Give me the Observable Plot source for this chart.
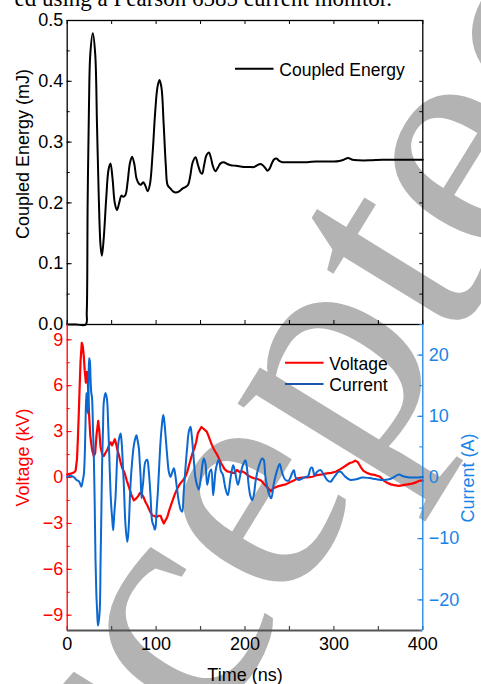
<!DOCTYPE html>
<html>
<head>
<meta charset="utf-8">
<script src="https://cdn.jsdelivr.net/npm/d3@7"></script>
<script src="https://cdn.jsdelivr.net/npm/@observablehq/plot@0.6"></script>
<style>
html,body{margin:0;padding:0;background:#fff;}
#wrap{position:relative;width:481px;height:684px;overflow:hidden;font-family:Arial,"Liberation Sans",sans-serif;}
#wrap svg{position:absolute;left:0;top:0;overflow:visible;}
</style>
</head>
<body>
<div id="wrap"></div>
<script>
// ---------- data ----------
const energyTime = [0,10,21,22,23,24.5,26,28.8,31.5,33.5,35.5,37.5,39,41,44,46.5,48.7,51,53.5,56,58.5,61,63,65.5,68,70.5,73,75.5,78,80.5,83,85.5,88,90.5,93,96,99,101.5,103.8,106,108.5,111,113,116,119,122,126,130,133,136,138.5,141,144.3,147,150,151.8,154,156.5,159.3,161.5,164,166.8,169.5,172.5,176,180,184,190,195,200,205,210,214,217,220,223,225,227.5,230.5,233,235.5,238.5,242,250,260,270,280,290,300,306,311,316,321,328,340,355,370,385,400];
const energyMJ = [0,0,0,0.02,0.2,0.36,0.445,0.479,0.445,0.33,0.21,0.13,0.113,0.14,0.21,0.255,0.265,0.24,0.2,0.188,0.2,0.212,0.21,0.213,0.235,0.265,0.276,0.264,0.24,0.232,0.23,0.234,0.228,0.219,0.23,0.28,0.35,0.39,0.402,0.39,0.33,0.26,0.229,0.224,0.219,0.217,0.219,0.224,0.226,0.23,0.245,0.266,0.275,0.263,0.25,0.248,0.262,0.278,0.283,0.275,0.26,0.252,0.258,0.265,0.267,0.264,0.262,0.261,0.26,0.259,0.259,0.259,0.262,0.264,0.262,0.257,0.253,0.256,0.266,0.272,0.273,0.269,0.267,0.267,0.267,0.267,0.268,0.268,0.268,0.269,0.271,0.274,0.271,0.27,0.27,0.271,0.271,0.271,0.271];

const voltageTime = [0,4,8,9.5,11,12,13.1,14,15,16.4,17.5,18.7,19.7,21,22.3,23.3,24.5,26,28,30,31.5,33,34.9,36.2,37.5,39.5,41.2,43,45,47,48.7,50.5,52,53.6,55,56.5,58,60,62,64.5,67,69.3,72,75,78,80,82,84,86,88,90,93,96,98,100,103,105,107,108.7,110.5,112.5,115,118,121,124,127,130,132.5,135,137,139,141,143,145,147,149,151,153,155,157,159,161,163,165,167,169,171,173,175,177,180,183,186,188.5,191,194,197,200,203,206,210,214,218,222,226,229,232,236,242,246,251,255,259,264,270,276,281,287,292,297,302,306,310,314,318,321,324,327,330,333,337,342,347,352,356,360,364,368,373,378,383,388,393,397,400];
const voltageKV = [0.2,0.25,0.35,0.45,1.2,2.5,4.3,5.9,7.6,8.8,8.6,7.9,7.0,6.2,6.9,6.2,4.2,2.7,1.8,1.4,1.6,2.8,3.7,3.0,2.0,1.5,1.4,1.6,1.8,2.1,2.3,2.1,2.3,2.5,2.2,1.8,1.5,1.0,0.6,0.3,-0.2,-0.6,-1.1,-1.5,-1.35,-1.2,-1.0,-1.1,-1.3,-1.6,-1.8,-2.2,-2.5,-2.5,-2.6,-2.5,-2.5,-2.8,-3.0,-2.8,-2.6,-2.1,-1.6,-1.1,-0.7,-0.4,-0.2,0.0,0.35,0.8,1.2,1.6,1.9,2.3,2.9,3.1,3.3,3.2,3.1,3.0,2.7,2.4,2.1,1.85,1.65,1.45,1.2,0.95,0.75,0.55,0.4,0.36,0.3,0.3,0.5,0.35,0.4,0.3,0.15,0.05,-0.05,-0.1,-0.2,-0.45,-0.7,-0.9,-0.7,-0.6,-0.5,-0.45,-0.3,-0.2,-0.05,0.0,0.0,0.05,0.16,0.2,0.27,0.3,0.38,0.5,0.65,0.8,0.95,1.0,1.1,1.0,0.7,0.45,0.3,0.2,0.15,0.05,-0.2,-0.35,-0.45,-0.5,-0.55,-0.5,-0.45,-0.4,-0.3,-0.2,-0.2];

const currentTime = [0,4,8,10.5,13,15,16,17.5,18.7,19.5,20.5,21.5,22.3,23.2,24,24.7,25.5,26.3,27,28,29,30,31,31.8,32.8,33.7,34.6,35.5,36.7,37.5,38.2,39.4,40.3,41.2,43,44,45,46,46.8,47.8,48.7,49.7,50.6,51.7,52.5,53.4,54.3,55.3,56.2,58,60,61,61.9,63.7,65.6,67.5,68.5,69.3,71.2,73,75,77,78,79,80.6,81.6,82.5,83.6,84.5,85.5,88,90,91.8,93.7,95.6,97.5,98.5,99.5,100.5,102,105,106.5,108,109,110.6,112.5,114.3,116.2,118,120,121.5,123,125.6,127.5,129.3,131,133,135,136.8,138.7,140,141.7,144.3,146,148,150.7,152,153.7,155.5,157.5,160.4,162,164.2,166.8,168.5,170.5,173,175,178,180.7,183.7,186.7,189,192,195,198,200.6,202,204.3,206,208,210,212,215.5,219.3,221,223,226.8,229.5,232.4,236.2,239,241.9,245.6,249,253,255,257,260.5,264,268,271,273.7,275.6,278.2,281.2,285,288,292.4,296.2,299,302,305,307.5,310,313,318.7,325,332,340,348,355,362,368,373,378,385,392,400];
const currentA = [0.1,0.3,0.0,-0.4,-0.6,-1.2,-1.5,-0.5,0.5,2.5,8,13.8,12,10.5,15,19.5,19,16,14,12.9,8,3.1,-5,-13.2,-19,-21.9,-24.2,-23.5,-21.4,-14,-7.8,3.1,8,12.4,13.8,13.4,12.4,9,5.9,1.5,-2.3,-5,-6.7,-8.6,-7,-5,-3.4,0,3.1,6.1,7.2,6.2,4.2,-1.2,-7.8,-10.5,-9.5,-7.8,-1.2,2.5,5.3,6.6,6.9,6.2,4.8,2.5,0.4,-3.4,-2.0,-0.7,2.6,2.9,0.95,-2.9,-7.2,-8.0,-8.5,-8.0,-5.5,-2.3,5.9,8.5,10.2,9.5,6.9,3.5,0.95,0.1,0.8,1.5,0.5,-1.2,-4.0,-5.2,-5.6,-2.5,1.5,5,7.5,8.3,7,4.2,-0.1,-1.2,-2.0,0.4,2.0,3.1,2.3,-1.2,0.95,1.3,-2.9,0.95,2.2,2.9,1.0,0.5,-1.8,-2.9,-0.1,2.0,0.8,-1.2,0.6,2.2,2.8,1.8,-1.5,-3.0,-3.7,-2.8,-0.5,1.8,3.1,2.9,0.1,-2.6,-3.4,-1.0,1.2,2.2,0.7,-0.4,-0.5,0.7,1.2,0.0,-0.4,-0.2,0.1,0.2,1.5,1.6,0.4,0.95,1.2,0.6,-0.4,-0.7,-0.2,0.4,0.9,0.95,0.6,0.1,-0.4,-0.3,0.0,-0.1,-0.3,-0.4,-0.3,0.1,0.5,0.2,0.0,0.0,0.1];

const energyTicks = [0, 0.1, 0.2, 0.3, 0.4, 0.5];
const voltageTicks = [-9, -6, -3, 0, 3, 6, 9];
const currentTicks = [-20, -10, 0, 10, 20];
const timeTicks = [0, 100, 200, 300, 400];
const seriesNames = ["Coupled Energy", "Voltage", "Current"];

// ---------- build ----------
const energy = energyTime.map((t, i) => ({t, v: energyMJ[i]}));
const voltage = voltageTime.map((t, i) => ({t, v: voltageKV[i]}));
const current = currentTime.map((t, i) => ({t, v: currentA[i]}));

const W = 481, ML = 66.7, MR = 58.7, FW = W - ML - MR;
const RED = "#ff0000", BLUE = "#0a68d0", BLUEAX = "#1a84e6", FONT = "Arial, 'Liberation Sans', sans-serif";
const wrap = document.getElementById("wrap");
const NS = "http://www.w3.org/2000/svg";

// watermark + clipped caption (behind chart)
const bg = document.createElementNS(NS, "svg");
bg.setAttribute("width", W); bg.setAttribute("height", 684);
bg.innerHTML = `<text x="392" y="6" text-anchor="end" font-family="'Liberation Serif','Times New Roman',serif" font-size="23" fill="#000">ed using a Pearson 6585 current monitor.</text>
<text transform="translate(334,536) rotate(-58.4)" text-anchor="middle" font-family="'Liberation Serif','Times New Roman',serif" font-size="330" fill="#b3b3b3">Accepted</text>`;
wrap.appendChild(bg);

const baseStyle = {background: "transparent", overflow: "visible", fontFamily: FONT, fontSize: "18px"};
const major = (a, b, s) => d3.range(a, b + s / 2, s);

// top panel: coupled energy
const FHt = 304;
const topPlot = Plot.plot({
  width: W, height: 340, marginTop: 20, marginBottom: 16, marginLeft: ML, marginRight: MR,
  style: baseStyle,
  x: {domain: [0, 400], axis: null},
  y: {domain: [0, 0.5]},
  marks: [
    Plot.tickY(major(0, 0.5, 0.05), {y: d => d, stroke: "#000", strokeWidth: 1, insetRight: FW - 3}),
    Plot.tickY(energyTicks, {y: d => d, stroke: "#000", strokeWidth: 1, insetRight: FW - 5}),
    Plot.tickY(major(0, 0.5, 0.05), {y: d => d, stroke: "#000", strokeWidth: 1, insetLeft: FW - 3}),
    Plot.tickX(major(0, 400, 50), {x: d => d, stroke: "#000", strokeWidth: 1, insetBottom: FHt - 4}),
    Plot.tickX(major(0, 400, 50), {x: d => d, stroke: "#000", strokeWidth: 1, insetTop: FHt - 4}),
    Plot.frame({stroke: "#000", strokeWidth: 1.3}),
    Plot.axisY(energyTicks, {anchor: "left", tickSize: 0, tickPadding: 4, tickFormat: d => d.toFixed(1), color: "#000", fontSize: 18, label: null}),
    Plot.text(["Coupled Energy (mJ)"], {frameAnchor: "left", textAnchor: "middle", rotate: -90, dx: -44.2, dy: -18.5, fontSize: 18, fill: "#000"}),
    Plot.line(energy, {x: "t", y: "v", stroke: "#000", strokeWidth: 2, curve: "catmull-rom"})
  ]
});
wrap.appendChild(topPlot);

// bottom panel: voltage (left axis)
const FHb = 306;
const vPlot = Plot.plot({
  width: W, height: 684, marginTop: 324, marginBottom: 54, marginLeft: ML, marginRight: MR,
  style: baseStyle,
  x: {domain: [0, 400]},
  y: {domain: [-10, 10]},
  marks: [
    Plot.tickY(major(-9, 9, 1.5), {y: d => d, stroke: RED, strokeWidth: 1, insetRight: FW - 3}),
    Plot.tickY(voltageTicks, {y: d => d, stroke: RED, strokeWidth: 1, insetRight: FW - 5}),
    Plot.tickX(major(0, 400, 50), {x: d => d, stroke: "#444", strokeWidth: 1.2, insetTop: FHb - 4}),
    Plot.ruleX([0], {stroke: RED, strokeWidth: 1.3}),
    Plot.ruleY([-10], {stroke: "#555", strokeWidth: 2}),
    Plot.axisY(voltageTicks, {anchor: "left", tickSize: 0, tickPadding: 4, color: RED, fontSize: 18, label: null}),
    Plot.axisX(timeTicks, {anchor: "bottom", tickSize: 0, tickPadding: 7, color: "#000", fontSize: 18, label: null}),
    Plot.text(["Voltage (kV)"], {frameAnchor: "left", textAnchor: "middle", rotate: -90, dx: -44.2, dy: -20, fontSize: 18, fill: RED}),
    Plot.text(["Time (ns)"], {frameAnchor: "bottom", textAnchor: "middle", lineAnchor: "bottom", dy: 50, fontSize: 18, fill: "#000"}),
    Plot.line(voltage, {x: "t", y: "v", stroke: RED, strokeWidth: 2.2, curve: "linear"})
  ]
});
wrap.appendChild(vPlot);

// bottom panel: current (right axis)
const iPlot = Plot.plot({
  width: W, height: 684, marginTop: 324, marginBottom: 54, marginLeft: ML, marginRight: MR,
  style: baseStyle,
  x: {domain: [0, 400], axis: null},
  y: {domain: [-25, 25]},
  marks: [
    Plot.tickY(major(-25, 25, 5), {y: d => d, stroke: BLUEAX, strokeWidth: 1, insetLeft: FW - 3}),
    Plot.tickY(currentTicks, {y: d => d, stroke: BLUEAX, strokeWidth: 1, insetLeft: FW - 5}),
    Plot.ruleX([400], {stroke: BLUEAX, strokeWidth: 1.3}),
    Plot.axisY(currentTicks, {anchor: "right", tickSize: 0, tickPadding: 6, color: BLUEAX, fontSize: 18, label: null}),
    Plot.text(["Current (A)"], {frameAnchor: "right", textAnchor: "middle", rotate: -90, dx: 45.7, dy: 0.5, fontSize: 18, fill: BLUEAX}),
    Plot.line(current, {x: "t", y: "v", stroke: BLUE, strokeWidth: 2, curve: "catmull-rom"})
  ]
});
wrap.appendChild(iPlot);

// legends
const lg = document.createElementNS(NS, "svg");
lg.setAttribute("width", W); lg.setAttribute("height", 684);
lg.setAttribute("font-family", FONT);
lg.innerHTML = `
<line x1="235" x2="273.5" y1="68.7" y2="68.7" stroke="#000" stroke-width="2"/>
<text x="279.3" y="75.5" font-size="17.5" fill="#000">${seriesNames[0]}</text>
<line x1="285" x2="323.5" y1="362.7" y2="362.7" stroke="${RED}" stroke-width="2"/>
<text x="329.3" y="369.8" font-size="17.5" fill="#000">${seriesNames[1]}</text>
<line x1="285" x2="323.5" y1="384" y2="384" stroke="#1d55a8" stroke-width="2"/>
<text x="329.3" y="390.8" font-size="17.5" fill="#000">${seriesNames[2]}</text>`;
wrap.appendChild(lg);
</script>
</body>
